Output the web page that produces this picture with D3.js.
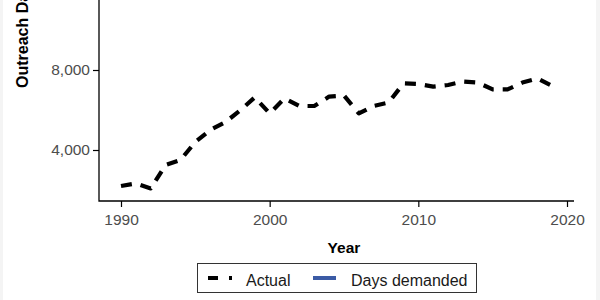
<!DOCTYPE html>
<html>
<head>
<meta charset="utf-8">
<script src="https://cdn.jsdelivr.net/npm/d3@7"></script>
<style>
  html, body { margin: 0; padding: 0; background: #f4f4f4; }
  svg { display: block; }
</style>
</head>
<body>
<svg id="grafico"></svg>
<script>
// Dados
const anos = d3.range(1990, 2020);
const actual = [2200, 2330, 2080, 3250, 3500, 4400, 5000, 5380, 5970, 6630,
  5830, 6580, 6200, 6200, 6670, 6720, 5830, 6200, 6370, 7330,
  7300, 7170, 7250, 7420, 7370, 7030, 7030, 7370, 7580, 7200];
const yTicks = [4000, 8000];
const xTicks = [1990, 2000, 2010, 2020];
const legendItems = ["Actual", "Days demanded"];

const width = 600, height = 300;
const fonte = "Liberation Sans, Arial, sans-serif";
const svg = d3.select("#grafico").attr("width", width).attr("height", height);

// fundo branco do painel
svg.append("rect").attr("x", 3).attr("y", 0).attr("width", 593).attr("height", height).attr("fill", "#fff");

const x = d3.scaleLinear().domain([1990, 2020]).range([121, 567]);
const y = d3.scaleLinear().domain([0, 8000]).range([230, 70]);

const eixoX = 201, eixoY = 99;

// eixo x
const gx = svg.append("g").attr("transform", `translate(0,${eixoX})`)
  .call(d3.axisBottom(x).tickValues(xTicks).tickFormat(d3.format("d")).tickSize(6).tickPadding(7));
gx.select(".domain").remove();
gx.selectAll("line").attr("stroke", "#000").attr("stroke-width", 1.2);
gx.selectAll("text").attr("fill", "#4d4d4d").attr("font-size", 15.5).attr("font-family", fonte);

// eixo y
const gy = svg.append("g").attr("transform", `translate(${eixoY},0)`)
  .call(d3.axisLeft(y).tickValues(yTicks).tickFormat(d3.format(",")).tickSize(6).tickPadding(3));
gy.select(".domain").remove();
gy.selectAll("line").attr("stroke", "#000").attr("stroke-width", 1.2);
gy.selectAll("text").attr("fill", "#4d4d4d").attr("font-size", 15.5).attr("font-family", fonte);

// linhas dos eixos
svg.append("path")
  .attr("d", `M${eixoY},-5V${eixoX}H574`)
  .attr("fill", "none").attr("stroke", "#000").attr("stroke-width", 1.3);

// linha "Actual"
const linha = d3.line().x((d, i) => x(anos[i])).y(d => y(d));
svg.append("path")
  .datum(actual)
  .attr("d", linha)
  .attr("fill", "none")
  .attr("stroke", "#000")
  .attr("stroke-width", 4.2)
  .attr("stroke-dasharray", "11,9")
  .attr("stroke-linejoin", "round");

// títulos
svg.append("text")
  .attr("x", 344).attr("y", 253)
  .attr("text-anchor", "middle")
  .attr("font-family", fonte)
  .attr("font-weight", "bold").attr("font-size", 15.5)
  .text("Year");

svg.append("text")
  .attr("transform", "translate(28,88) rotate(-90)")
  .attr("text-anchor", "start")
  .attr("font-family", fonte)
  .attr("font-weight", "bold").attr("font-size", 16)
  .text("Outreach Days");

// legenda
const leg = svg.append("g");
leg.append("rect").attr("x", 197.5).attr("y", 263.5).attr("width", 279).attr("height", 29)
  .attr("fill", "#fff").attr("stroke", "#333").attr("stroke-width", 1);
leg.append("line").attr("x1", 208).attr("x2", 232).attr("y1", 278).attr("y2", 278)
  .attr("stroke", "#000").attr("stroke-width", 4).attr("stroke-dasharray", "10,11");
leg.append("line").attr("x1", 313).attr("x2", 336).attr("y1", 278).attr("y2", 278)
  .attr("stroke", "#3b5ba5").attr("stroke-width", 4);
leg.selectAll("text.item")
  .data(legendItems)
  .enter().append("text")
  .attr("class", "item")
  .attr("x", (d, i) => i === 0 ? 246 : 351)
  .attr("y", 286)
  .attr("font-family", fonte)
  .attr("font-size", 16)
  .attr("fill", "#1a1a1a")
  .text(d => d);
</script>
</body>
</html>
